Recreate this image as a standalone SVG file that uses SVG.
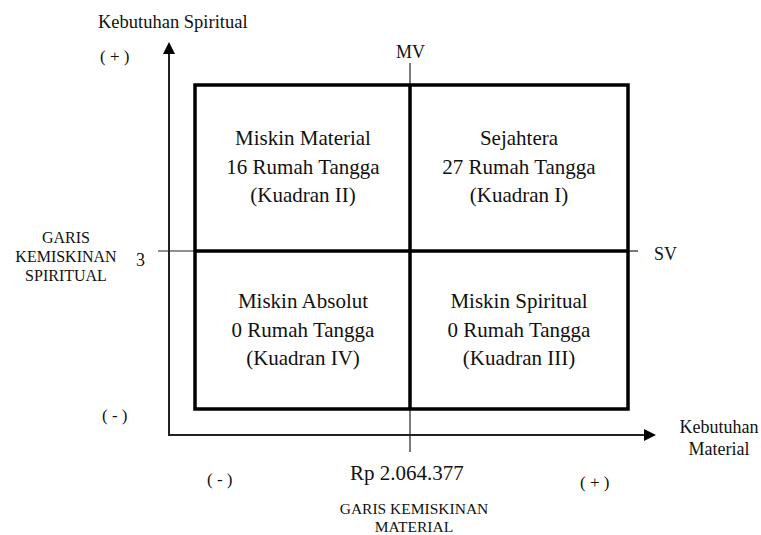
<svg xmlns="http://www.w3.org/2000/svg" width="761" height="535" viewBox="0 0 761 535">
<style>
text{font-family:"Liberation Serif","Times New Roman",serif;fill:#111}
.q{font-size:21px;text-anchor:middle}
.c{text-anchor:middle}
.axis{stroke:#222;stroke-width:2;fill:none}
.thin{stroke:#222;stroke-width:1.2;fill:none}
.thick{stroke:#000;stroke-width:3.5;fill:none}
</style>
<defs>
<marker id="ah" viewBox="0 0 12 12" refX="0" refY="6" markerWidth="12" markerHeight="12" markerUnits="userSpaceOnUse" orient="auto">
<path d="M0,0 L12,6 L0,12 Z" fill="#000"/>
</marker>
</defs>
<rect width="761" height="535" fill="#fff"/>
<g id="connectors">
<line class="axis" x1="169" y1="436" x2="169" y2="54" marker-end="url(#ah)"/>
<line class="axis" x1="168" y1="435" x2="644" y2="435" marker-end="url(#ah)"/>
<line class="thin" x1="410" y1="63" x2="410" y2="85"/>
<line class="thin" x1="410" y1="409" x2="410" y2="452"/>
<line class="thin" x1="158" y1="251" x2="195" y2="251"/>
<line class="thin" x1="628" y1="251" x2="638" y2="251"/>
</g>
<g id="quadrant-box">
<rect class="thick" x="195" y="85" width="433" height="324"/>
<line class="thick" x1="410" y1="85" x2="410" y2="409"/>
<line class="thick" x1="195" y1="251" x2="628" y2="251"/>
</g>
<g id="q2">
<text class="q" x="303" y="145">Miskin Material</text>
<text class="q" x="303" y="174">16 Rumah Tangga</text>
<text class="q" x="303" y="202">(Kuadran II)</text>
</g>
<g id="q1">
<text class="q" x="519" y="145">Sejahtera</text>
<text class="q" x="519" y="174">27 Rumah Tangga</text>
<text class="q" x="519" y="202">(Kuadran I)</text>
</g>
<g id="q4">
<text class="q" x="303" y="308">Miskin Absolut</text>
<text class="q" x="303" y="337">0 Rumah Tangga</text>
<text class="q" x="303" y="365">(Kuadran IV)</text>
</g>
<g id="q3">
<text class="q" x="519" y="308">Miskin Spiritual</text>
<text class="q" x="519" y="337">0 Rumah Tangga</text>
<text class="q" x="519" y="365">(Kuadran III)</text>
</g>
<g id="labels">
<text x="98" y="28" font-size="18.5">Kebutuhan Spiritual</text>
<text x="100" y="62" font-size="17" xml:space="preserve">( + )</text>
<text x="396" y="58" font-size="18">MV</text>
<text x="654" y="260" font-size="18">SV</text>
<text x="136" y="266" font-size="18">3</text>
<text class="c" x="66" y="243" font-size="16">GARIS</text>
<text class="c" x="66" y="262" font-size="16">KEMISKINAN</text>
<text class="c" x="66" y="281" font-size="16">SPIRITUAL</text>
<text x="102" y="421" font-size="17" xml:space="preserve">( - )</text>
<text x="207" y="485" font-size="17" xml:space="preserve">( - )</text>
<text x="580" y="488" font-size="17" xml:space="preserve">( + )</text>
<text class="c" x="407" y="480" font-size="21">Rp 2.064.377</text>
<text class="c" x="414" y="514" font-size="15.5">GARIS KEMISKINAN</text>
<text class="c" x="414" y="532" font-size="15.5">MATERIAL</text>
<text class="c" x="719" y="433" font-size="18">Kebutuhan</text>
<text class="c" x="719" y="455" font-size="18">Material</text>
</g>
</svg>
